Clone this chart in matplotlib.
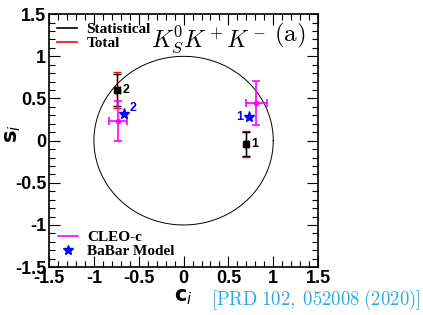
import numpy as np
import matplotlib
matplotlib.use("Agg")
import matplotlib.pyplot as plt
from matplotlib.ticker import MultipleLocator
from matplotlib.lines import Line2D

# measured values (bins 1, 2)
c_meas = [0.70, -0.74]
s_meas = [-0.04, 0.60]
c_stat = [0.02, 0.03]
s_stat = [0.14, 0.19]
s_tot = [0.15, 0.21]

# CLEO-c
c_cleo = [0.81, -0.73]
s_cleo = [0.45, 0.23]
c_cleo_err = [0.115, 0.10]
s_cleo_err = [0.26, 0.24]

# BaBar model
c_babar = [0.73, -0.66]
s_babar = [0.28, 0.32]

bin_labels = ["1", "2"]
tick_vals = [-1.5, -1, -0.5, 0, 0.5, 1, 1.5]
tick_text = ['-1.5', '-1', '-0.5', '0', '0.5', '1', '1.5']

plt.rcParams['font.family'] = ['Liberation Sans', 'DejaVu Sans']
fig = plt.figure(figsize=(4.23, 3.15), dpi=100)
ax = fig.add_axes([0.116, 0.152, 0.636, 0.803])

th = np.linspace(0, 2 * np.pi, 400)
ax.plot(np.cos(th), np.sin(th), color='black', lw=0.7)

# total errors (red) then stat (black)
ax.errorbar(c_meas, s_meas, yerr=s_tot, fmt='none', ecolor='red', elinewidth=1.0, capsize=3, capthick=1.0)
ax.errorbar(c_meas, s_meas, xerr=c_stat, yerr=s_stat, fmt='s', color='black', ms=4,
            ecolor='black', elinewidth=1.0, capsize=3, capthick=1.0)
ax.errorbar(c_cleo, s_cleo, xerr=c_cleo_err, yerr=s_cleo_err, fmt='o', color='magenta', ms=3,
            ecolor='magenta', elinewidth=1.2, capsize=3, capthick=1.2)
ax.plot(c_babar, s_babar, '*', color='blue', ms=8, ls='none')

# bin labels
ax.text(c_meas[0] + 0.06, s_meas[0], bin_labels[0], fontsize=9, fontweight='bold', va='center')
ax.text(c_meas[1] + 0.06, s_meas[1], bin_labels[1], fontsize=9, fontweight='bold', va='center')
ax.text(c_babar[0] - 0.06, s_babar[0], bin_labels[0], fontsize=9, fontweight='bold', color='blue',
        va='center', ha='right')
ax.text(c_babar[1] + 0.06, s_babar[1] + 0.07, bin_labels[1], fontsize=9, fontweight='bold', color='blue',
        va='center')

ax.set_xlim(-1.5, 1.5)
ax.set_ylim(-1.5, 1.5)
ax.xaxis.set_minor_locator(MultipleLocator(0.1))
ax.yaxis.set_minor_locator(MultipleLocator(0.1))
ax.tick_params(which='both', direction='in', top=True, right=True, width=0.8)
ax.tick_params(which='major', length=8, labelsize=13, pad=2)
ax.tick_params(which='minor', length=4)
ax.set_xticks(tick_vals)
ax.set_xticklabels(tick_text, fontweight='bold')
ax.set_yticks(tick_vals)
ax.set_yticklabels(tick_text, fontweight='bold')
for sp in ax.spines.values():
    sp.set_linewidth(1.2)

ax.text(0.0, -1.74, r'$\mathbf{c}_{i}$', fontsize=15, ha='center', va='top')
ax.text(-1.9, 0.08, r'$\mathbf{s}_{i}$', fontsize=15, ha='center', va='center', rotation=90)

# legends
leg_font = {'family': 'Liberation Serif', 'weight': 'bold', 'size': 11}
h1 = [Line2D([], [], color='black', lw=1.2), Line2D([], [], color='red', lw=1.2)]
l1 = ax.legend(h1, ['Statistical', 'Total'], loc='upper left', bbox_to_anchor=(0.0, 1.0),
               frameon=False, prop=leg_font, handlelength=1.3, labelspacing=0.0,
               borderaxespad=0.15, handletextpad=0.6)
ax.add_artist(l1)
h2 = [Line2D([], [], color='magenta', lw=1.2),
      Line2D([], [], marker='*', color='blue', ls='none', ms=7)]
ax.legend(h2, ['CLEO-c', 'BaBar Model'], loc='lower left', bbox_to_anchor=(0.0, 0.0),
          frameon=False, prop=leg_font, handlelength=1.3, labelspacing=0.0,
          borderaxespad=0.2, handletextpad=0.6)

ax.text(-0.36, 1.2, r'$K_S^0K^+K^-$', fontsize=17, ha='left', va='center',
        math_fontfamily='cm')
ax.text(1.18, 1.25, r'$\mathrm{(a)}$', fontsize=18, ha='center', va='center',
        math_fontfamily='cm')

fig.text(0.995, 0.01, r'$\mathrm{[PRD\;102,\;052008\;(2020)]}$', color='#29abe2', fontsize=13.5,
         ha='right', va='bottom', math_fontfamily='cm')

fig.savefig('out.png', dpi=100)
